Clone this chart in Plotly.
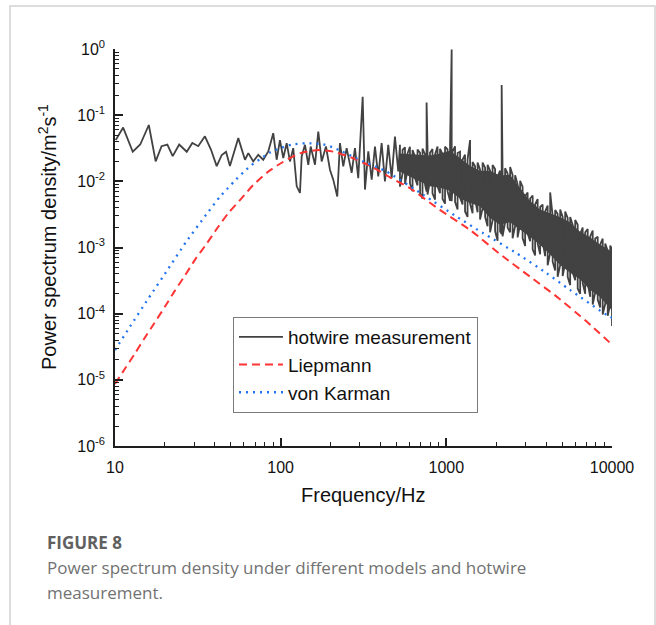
import plotly.graph_objects as go

# ---------------- data ----------------
# hotwire measurement: sparse low-frequency part
hot_low_freq = [10.1, 11.2, 12.8, 14.2, 16.0, 17.6, 19.1, 20.7, 22.3, 24.4, 27.1, 29.3,
                31.8, 34.9, 38.0, 41.1, 44.1, 46.8, 49.4, 55.5]
hot_low_psd = [0.042, 0.065, 0.028, 0.036, 0.071, 0.020, 0.034, 0.036, 0.024, 0.036, 0.028, 0.038,
               0.034, 0.048, 0.030, 0.017, 0.025, 0.028, 0.017, 0.045]

# hotwire measurement: middle part
hot_mid_freq = [60.9, 63.8, 68.3, 73.2, 78.5, 84.2, 90.2, 94.6, 99.0, 103.7,
                108.7, 113.8, 119.1, 125.0, 130.8, 133.9, 140.2, 146.8, 151.8, 161.1,
                168.7, 176.8, 187.7, 198.4, 207.7, 219.6, 228.0, 238.7, 250.2, 268.2,
                280.8, 294.0, 312.6, 322.8, 338.0, 354.4, 370.9, 388.3, 406.9, 426.1,
                446.1, 467.7, 489.6, 512.6]
hot_mid_psd = [0.0212, 0.0267, 0.0200, 0.0252, 0.0212, 0.0283, 0.0535, 0.0212, 0.042, 0.0225,
               0.0378, 0.0200, 0.0318, 0.0084, 0.0067, 0.0238, 0.0356, 0.0178, 0.0336, 0.0178,
               0.0565, 0.0200, 0.0336, 0.0150, 0.0106, 0.0059, 0.0378, 0.0168, 0.0318, 0.0134,
               0.0318, 0.0112, 0.19, 0.0075, 0.0283, 0.0106, 0.0336, 0.0119, 0.0378, 0.0100,
               0.0356, 0.0112, 0.0475, 0.0141]

# hotwire measurement: dense high-frequency part, local maxima and minima per frequency bin
hot_high_freq = [525, 544, 563, 583, 603, 625, 647, 670, 694, 718, 744, 760, 770, 797, 825, 855,
                 885, 916, 949, 982, 1017, 1053, 1077, 1090, 1129, 1169, 1210, 1253, 1297, 1343,
                 1391, 1440, 1491, 1544, 1598, 1655, 1714, 1774, 1837, 1902, 1969, 2039, 2111,
                 2158, 2186, 2263, 2344, 2427, 2512, 2601, 2693, 2789, 2887, 2990, 3096, 3205,
                 3319, 3436, 3558, 3684, 3814, 3949, 4089, 4234, 4383, 4539, 4699, 4866, 5038,
                 5216, 5401, 5592, 5790, 5995, 6207, 6427, 6654, 6890, 7134, 7386, 7648, 7918,
                 8199, 8489, 8789, 9101, 9423, 9756, 10000]
hot_high_max = [0.0356, 0.0300, 0.0327, 0.0263, 0.0333, 0.0298, 0.0239, 0.0302, 0.0270, 0.0312,
                0.0256, 0.155, 0.0318, 0.0270, 0.0307, 0.0256, 0.0335, 0.0310, 0.0256, 0.0333,
                0.0305, 0.0369, 0.98, 0.0282, 0.0338, 0.0268, 0.0280, 0.0212, 0.0252, 0.0212,
                0.042, 0.0196, 0.0169, 0.0193, 0.0150, 0.0192, 0.0161, 0.0178, 0.0145, 0.0176,
                0.0153, 0.0118, 0.0145, 0.285, 0.0132, 0.0158, 0.0130, 0.0165, 0.0125, 0.0124,
                0.0090, 0.0102, 0.0082, 0.0060, 0.0068, 0.0055, 0.0061, 0.0045, 0.0054, 0.0041,
                0.00446, 0.0035, 0.0043, 0.0068, 0.0030, 0.0037, 0.0032, 0.00375, 0.0029, 0.0035,
                0.0028, 0.0029, 0.0022, 0.0026, 0.0022, 0.0016, 0.0020, 0.0017, 0.0019, 0.00147,
                0.0018, 0.00137, 0.00145, 0.00111, 0.00136, 0.00115, 0.00089, 0.00107, 0.00094]
hot_high_min = [0.0083, 0.0131, 0.0091, 0.0146, 0.0093, 0.0071, 0.0112, 0.0087, 0.0066, 0.0055,
                0.0089, 0.0070, 0.0063, 0.0102, 0.0066, 0.0053, 0.0084, 0.0066, 0.0054, 0.0046,
                0.0071, 0.0051, 0.0050, 0.0080, 0.0049, 0.00375, 0.0057, 0.00446, 0.0035, 0.0029,
                0.0046, 0.0033, 0.0053, 0.0034, 0.00265, 0.0039, 0.0029, 0.0021, 0.0017, 0.0026,
                0.00177, 0.00126, 0.00174, 0.0016, 0.00147, 0.0024, 0.0020, 0.0017, 0.00138,
                0.0021, 0.00142, 0.00223, 0.00139, 0.00105, 0.00163, 0.00124, 0.00094, 0.00076,
                0.00115, 0.00079, 0.00122, 0.00074, 0.00054, 0.00082, 0.00061, 0.00045, 0.00036,
                0.00054, 0.00037, 0.00058, 0.00036, 0.00027, 0.00042, 0.00032, 0.00024, 0.00020,
                0.00029, 0.00020, 0.00029, 0.00018, 0.000137, 0.00021, 0.000163, 0.000124,
                0.000097, 0.000141, 0.000093, 0.000141, 0.000065]

# solid core of the dense measured band (upper / lower edge)
band_freq = [525, 603, 693, 796, 915, 1052, 1208, 1388, 1595, 1833, 2106, 2420, 2781, 3195,
             3671, 4218, 4847, 5570, 6400, 7354, 8450, 9710, 10000]
band_top = [0.0263, 0.0258, 0.0252, 0.0246, 0.0263, 0.0289, 0.0225, 0.0172, 0.0145, 0.0145,
            0.0122, 0.0126, 0.0080, 0.0051, 0.00375, 0.0033, 0.0029, 0.0024, 0.00174, 0.00143,
            0.00111, 0.00090, 0.00086]
band_bottom = [0.0140, 0.0118, 0.0099, 0.0084, 0.0080, 0.0072, 0.0055, 0.0047, 0.0042, 0.0028,
               0.0022, 0.0024, 0.0019, 0.00146, 0.00110, 0.00079, 0.00055, 0.00042, 0.00033,
               0.00023, 0.00018, 0.000122, 0.000112]

# Liepmann model
liep_freq = [10, 11.5, 13.2, 15.0, 17.3, 20.0, 22.9, 26.5, 30.5, 35.9, 41.9, 48.5, 58.2, 68.4,
             84.1, 101.4, 130.6, 168.7, 207.5, 274.2, 362.2, 457.1, 602.6, 914.1, 1387, 2203,
             3199, 4634, 7031, 10000]
liep_psd = [8.7e-6, 1.48e-5, 2.51e-5, 4.17e-5, 7.24e-5, 1.27e-4, 2.19e-4, 3.80e-4, 6.61e-4,
            1.16e-3, 2.04e-3, 3.35e-3, 5.56e-3, 8.83e-3, 1.40e-2, 1.91e-2, 2.65e-2, 2.98e-2,
            2.81e-2, 2.23e-2, 1.62e-2, 1.15e-2, 7.87e-3, 3.70e-3, 1.85e-3, 7.29e-4, 3.63e-4,
            1.81e-4, 7.6e-5, 3.4e-5]

# von Karman model
vk_freq = [10, 12.36, 15.96, 20.8, 26.9, 35.6, 42.9, 48.1, 53.0, 59.4, 66.8, 75.0, 86.1, 99.1,
           116.4, 141.3, 180.7, 212.8, 314.8, 436.5, 726.1, 1153, 1671, 2655, 4027, 5572, 9268,
           10000]
vk_psd = [2.82e-5, 6.46e-5, 1.72e-4, 4.63e-4, 1.22e-3, 3.16e-3, 5.82e-3, 7.94e-3, 1.03e-2,
          1.36e-2, 1.77e-2, 2.16e-2, 2.72e-2, 3.16e-2, 3.59e-2, 3.76e-2, 3.63e-2, 3.16e-2,
          2.0e-2, 1.40e-2, 6.24e-3, 2.93e-3, 1.64e-3, 8.2e-4, 4.09e-4, 2.29e-4, 9.6e-5, 8.7e-5]

x_tick_vals = [10, 100, 1000, 10000]
x_tick_text = ["10", "100", "1000", "10000"]
y_exponents = [-6, -5, -4, -3, -2, -1, 0]
y_tick_text = ["10<sup>%d</sup>" % e for e in y_exponents]

series_names = ["hotwire measurement", "Liepmann", "von Karman"]
caption_title = "FIGURE 8"
caption_lines = ["Power spectrum density under different models and hotwire", "measurement."]

assert len(hot_high_freq) == len(hot_high_max) == len(hot_high_min)

# ---------------- layout helpers ----------------
WIDTH, HEIGHT = 656, 625
ML, MR, MT, MB = 115, 44, 49, 179
PW = WIDTH - ML - MR
PH = HEIGHT - MT - MB


def fx(p):
    return (p - ML) / PW


def fy(p):
    return (HEIGHT - MB - p) / PH


HOT = "#424242"
RED = "#ff3434"
BLUE = "#2273ee"
AX = "#1e1e1e"
FONT = "Arial, Liberation Sans, sans-serif"
CAP_FONT = "Open Sans, Noto Sans, sans-serif"

# measured trace: sparse part, then each dense bin drawn from its maximum to its minimum
hot_freq = hot_low_freq + hot_mid_freq
hot_psd = hot_low_psd + hot_mid_psd
for i, (f, hi, lo) in enumerate(zip(hot_high_freq, hot_high_max, hot_high_min)):
    hot_freq += [f, f]
    hot_psd += [hi, lo] if i % 2 == 0 else [lo, hi]

fig = go.Figure()
fig.add_trace(go.Scatter(
    x=band_freq + band_freq[::-1], y=band_top + band_bottom[::-1],
    mode="lines", fill="toself", fillcolor=HOT, line=dict(width=0, color=HOT),
    showlegend=False, hoverinfo="skip", legendgroup="hot"))
fig.add_trace(go.Scatter(
    x=hot_freq, y=hot_psd, mode="lines", name=series_names[0], legendgroup="hot",
    line=dict(color=HOT, width=1.8)))
fig.add_trace(go.Scatter(
    x=liep_freq, y=liep_psd, mode="lines", name=series_names[1],
    line=dict(color=RED, width=2, dash="8px,5px", shape="spline", smoothing=0.6)))
fig.add_trace(go.Scatter(
    x=vk_freq, y=vk_psd, mode="lines", name=series_names[2],
    line=dict(color=BLUE, width=2.3, dash="2px,5px", shape="spline", smoothing=0.6)))

x_minor = [m * 10 ** d for d in (1, 2, 3) for m in range(2, 10)]
y_minor = [m * 10.0 ** d for d in range(-6, 0) for m in range(2, 10)]

fig.update_xaxes(
    type="log", range=[1, 4], showline=True, linecolor=AX, linewidth=1.5,
    ticks="inside", ticklen=8, tickwidth=1.5, tickcolor=AX,
    tickmode="array", tickvals=x_tick_vals, ticktext=x_tick_text,
    tickfont=dict(family=FONT, size=16, color="#111"), ticklabelstandoff=6,
    showgrid=False, zeroline=False, mirror=False,
    minor=dict(ticks="inside", ticklen=4, tickwidth=1.2, tickcolor=AX,
               tickmode="array", tickvals=x_minor, showgrid=False))
fig.update_yaxes(
    type="log", range=[-6, 0], showline=True, linecolor=AX, linewidth=1.5,
    ticks="inside", ticklen=8, tickwidth=1.5, tickcolor=AX,
    tickmode="array", tickvals=[10.0 ** e for e in y_exponents], ticktext=y_tick_text,
    tickfont=dict(family=FONT, size=16, color="#111"), ticklabelstandoff=5,
    showgrid=False, zeroline=False, mirror=False,
    minor=dict(ticks="inside", ticklen=4, tickwidth=1.2, tickcolor=AX,
               tickmode="array", tickvals=y_minor, showgrid=False))

annotations = [
    dict(text="Power spectrum density/m<sup>2</sup>s<sup>-1</sup>", textangle=-90,
         x=fx(48), y=fy(237), xref="paper", yref="paper", showarrow=False,
         xanchor="center", yanchor="middle", font=dict(family=FONT, size=20, color="#111")),
    dict(text="Frequency/Hz", x=fx(363), y=fy(495), xref="paper", yref="paper",
         showarrow=False, xanchor="center", yanchor="middle",
         font=dict(family=FONT, size=20, color="#111")),
    dict(text="<b>" + caption_title + "</b>", x=fx(45), y=fy(542), xref="paper", yref="paper",
         showarrow=False, xanchor="left", yanchor="middle",
         font=dict(family=CAP_FONT, size=17, color="#606060")),
    dict(text=caption_lines[0], x=fx(45), y=fy(567), xref="paper", yref="paper",
         showarrow=False, xanchor="left", yanchor="middle",
         font=dict(family=CAP_FONT, size=17, color="#727272")),
    dict(text=caption_lines[1], x=fx(45), y=fy(592), xref="paper", yref="paper",
         showarrow=False, xanchor="left", yanchor="middle",
         font=dict(family=CAP_FONT, size=17, color="#727272")),
]

fig.update_layout(
    width=WIDTH, height=HEIGHT,
    margin=dict(l=ML, r=MR, t=MT, b=MB, pad=0),
    paper_bgcolor="white", plot_bgcolor="white",
    font=dict(family=FONT, color="#111"),
    showlegend=True,
    legend=dict(x=fx(233), y=fy(317), xanchor="left", yanchor="top",
                bgcolor="white", bordercolor="#7a7a7a", borderwidth=1,
                font=dict(family=FONT, size=19, color="#111"), tracegroupgap=0,
                traceorder="normal", itemwidth=44),
    annotations=annotations,
    shapes=[dict(type="rect", xref="paper", yref="paper", x0=fx(10), x1=fx(655),
                 y0=fy(660), y1=fy(6), line=dict(color="#d2d2d2", width=1.5),
                 layer="below")],
)

fig.write_html("out.html")
